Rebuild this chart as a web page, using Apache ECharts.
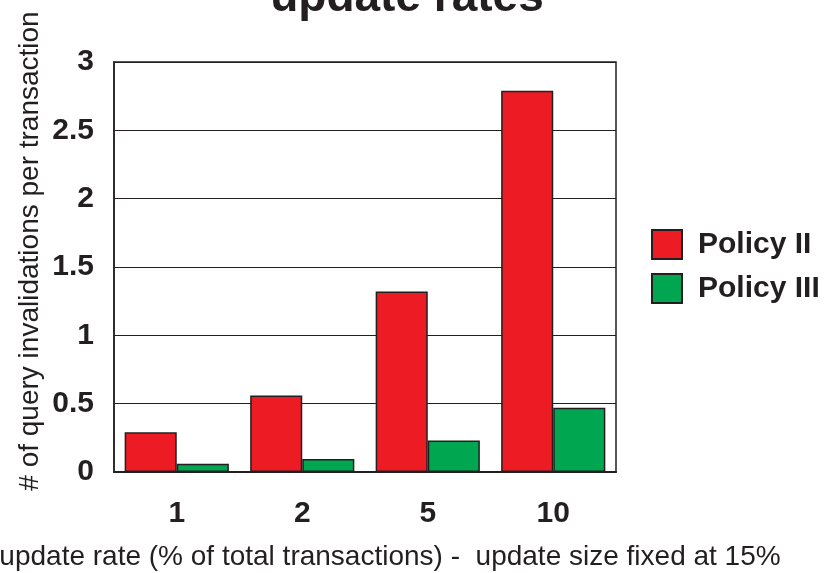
<!DOCTYPE html>
<html>
<head>
<meta charset="utf-8">
<script src="https://cdn.jsdelivr.net/npm/echarts@6/dist/echarts.min.js"></script>
<style>
  html, body { margin: 0; padding: 0; background: #fff; }
  #chart { width: 833px; height: 573px; }
</style>
</head>
<body>
<div id="chart"></div>
<script>
// update rate categories (x axis)
var categories = ['1', '2', '5', '10']
// invalidations per transaction
var policyII = [0.29, 0.56, 1.32, 2.79]
var policyIII = [0.06, 0.095, 0.23, 0.47]

var myChart = echarts.init(document.getElementById('chart'))
myChart.setOption({
  animation: false,
  textStyle: { fontFamily: 'Liberation Sans, Arial, sans-serif', color: '#231f20' },
  title: {
    text: 'update rates',
    left: 402,
    textAlign: 'center',
    top: -30,
    textStyle: { fontSize: 46, fontWeight: 'bold', color: '#231f20' }
  },
  legend: {
    orient: 'vertical',
    left: 651,
    top: 229,
    padding: 0,
    icon: 'rect',
    itemWidth: 30,
    itemHeight: 29,
    itemGap: 13,
    textStyle: { fontSize: 30, fontWeight: 'bold', color: '#231f20', padding: [0, 0, 0, 11], lineHeight: 29 },
    data: ['Policy II', 'Policy III']
  },
  graphic: [
    {
      // y axis title
      type: 'text',
      x: 30,
      y: 251,
      rotation: Math.PI / 2,
      style: {
        text: '# of query invalidations per transaction',
        font: '28px Liberation Sans, Arial, sans-serif',
        fill: '#231f20',
        align: 'center',
        verticalAlign: 'middle'
      }
    }
  ],
  grid: {
    left: 114,
    right: 217,
    top: 62,
    bottom: 101,
    show: true,
    borderColor: '#231f20',
    borderWidth: 1.5,
    outerBoundsMode: 'none',
    containLabel: false
  },
  xAxis: {
    type: 'category',
    data: categories,
    axisTick: { show: false },
    axisLine: { lineStyle: { color: '#231f20', width: 2 } },
    axisLabel: { fontSize: 30, fontWeight: 'bold', color: '#231f20', margin: 27 },
    name: 'update rate (% of total transactions) -  update size fixed at 15%',
    nameLocation: 'middle',
    nameGap: 71,
    nameTextStyle: { fontSize: 28, color: '#231f20', padding: [0, 0, 0, 50] }
  },
  yAxis: {
    type: 'value',
    min: 0,
    max: 3,
    interval: 0.5,
    axisTick: { show: false },
    axisLine: { show: true, lineStyle: { color: '#231f20', width: 1.5 } },
    splitLine: { lineStyle: { color: '#231f20', width: 1 } },
    axisLabel: { fontSize: 30, fontWeight: 'bold', color: '#231f20', margin: 20 }
  },
  series: [
    {
      name: 'Policy II',
      type: 'bar',
      data: policyII,
      barGap: '0%',
      barCategoryGap: '17%',
      itemStyle: { color: '#ed1c24', borderColor: '#231f20', borderWidth: 1.5 }
    },
    {
      name: 'Policy III',
      type: 'bar',
      data: policyIII,
      itemStyle: { color: '#00a650', borderColor: '#231f20', borderWidth: 1.5 }
    }
  ]
})
</script>
</body>
</html>
